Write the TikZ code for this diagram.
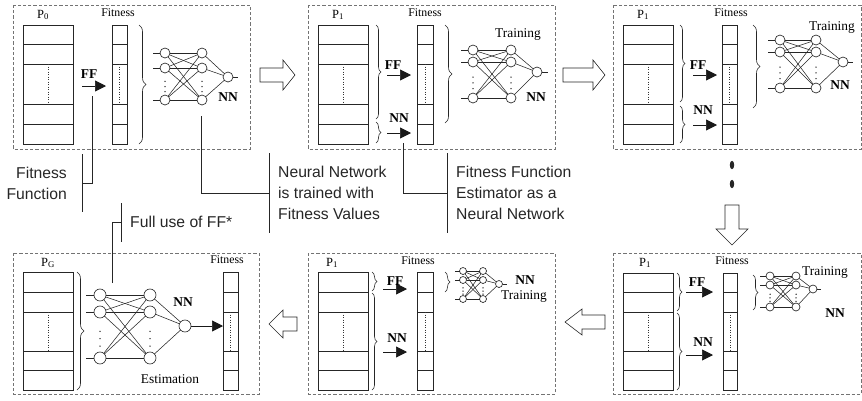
\documentclass[tikz,border=0pt]{standalone}
\usepackage{fontspec}
\setmainfont{Liberation Serif}
\setsansfont{Liberation Sans}
\usetikzlibrary{decorations.pathreplacing,arrows.meta}
\tikzset{
  panel/.style={draw=black!55, dash pattern=on 3.2pt off 2pt, line width=0.8pt},
  cell/.style={draw=black!85, line width=0.75pt},
  cellbox/.style={cell, rectangle, inner sep=0pt, outer sep=0pt},
  dotline/.style={draw=black!80, dotted, line width=0.5pt},
  neuron/.style={circle, draw=black!85, line width=0.65pt, inner sep=0pt, outer sep=0pt, fill=white},
  wire/.style={draw=black!85, line width=0.55pt},
  brc/.style={draw=black!85, line width=0.6pt, decorate, decoration={brace, amplitude=#1}},
  brc/.default=6pt,
  ffarrow/.style={draw=black!90, line width=0.7pt, -{Triangle[length=11pt,width=11pt]}},
  hollow/.style={draw=black!85, line width=0.6pt, fill=white, line join=miter},
  conn/.style={draw=black!85, line width=0.7pt},
  lbl/.style={font=\fontsize{11.8}{12}\selectfont, inner sep=0pt},
  plbl/.style={font=\fontsize{12.5}{13}\selectfont, inner sep=0pt},
  big/.style={font=\fontsize{13.4}{14}\selectfont, inner sep=0pt},
  bld/.style={font=\fontsize{13.5}{14}\selectfont\bfseries, inner sep=0pt},
  note/.style={font=\sffamily\fontsize{15.7}{21}\selectfont, text=black!85, inner sep=0pt},
}
% population / fitness column: name, x1, x2, ytop, ybot, l1, l2, l3, l4
\newcommand\popcol[9]{%
  \node[cellbox, anchor=north west, minimum width={(#3-#2)*1pt}, minimum height={(#5-#4)*1pt}] (#1) at (#2,#4) {};
  \foreach \yy in {#6,#7,#8,#9} \draw[cell] (#2,\yy) -- (#3,\yy);
  \draw[dotline] ({(#2+#3)/2},#7) -- ({(#2+#3)/2},#8);
}
% neural net: prefix, xi, xh, xo, y1, y2, y3, yo, diameter
\newcommand\nnet[9]{%
  \foreach \k/\yy in {1/#5,2/#6,3/#7}{%
    \node[neuron, minimum size=#9pt] (#1i\k) at (#2,\yy) {};
    \node[neuron, minimum size=#9pt] (#1h\k) at (#3,\yy) {};
  }
  \node[neuron, minimum size=#9pt] (#1o) at (#4,#8) {};
  \foreach \a in {1,2,3}{%
    \draw[wire] (#1i\a.west) -- ++({-0.7*#9},0);
    \foreach \b in {1,2,3}{\draw[wire] (#1i\a) -- (#1h\b);}
    \draw[wire] (#1h\a) -- (#1o);
  }
  \foreach \f in {0.42,0.58,0.74}{%
    \fill[black!85] (#2,{#6+\f*(#7-#6)}) circle (0.75pt);
    \fill[black!85] (#3,{#6+\f*(#7-#6)}) circle (0.75pt);
  }
}
\begin{document}
\begin{tikzpicture}[x=1pt,y=-1pt]
\useasboundingbox (0,0) rectangle (862,400);

% ================= Panel 1 =================
\draw[panel] (13,5) rectangle (250,149);
\node[plbl] (p1name) at (43,15) {P\textsubscript{0}};
\node[lbl] (p1fit) at (118,13) {Fitness};
\popcol{p1pop}{23}{73}{25}{144}{44}{64}{104}{124}
\popcol{p1col}{112}{127}{25}{144}{44}{64}{104}{124}
\draw[brc=7pt] (139,25) -- (139,144);
\coordinate (p1a) at (82,86); \coordinate (p1b) at (106,86);
\draw[ffarrow] (p1a) -- (p1b);
\node[bld] (p1ff) at (89,74) {FF};
\nnet{pa}{165}{202}{228}{53}{68}{100}{77}{10}
\draw[wire] (pao.east) -- ++(5,0);
\node[bld] (p1nn) at (228,97) {NN};

% ================= Panel 2 =================
\draw[panel] (308,5) rectangle (555,149);
\node[plbl] (p2name) at (338,15) {P\textsubscript{1}};
\node[lbl] (p2fit) at (425,13) {Fitness};
\popcol{p2pop}{318}{368}{25}{144}{44}{64}{104}{124}
\popcol{p2col}{417}{433}{25}{144}{44}{64}{104}{124}
\draw[brc=5pt] (376,25) -- (376,119);
\draw[brc=5pt] (376,122) -- (376,143);
\draw[ffarrow] (387,75) -- (411,75);
\node[bld] (p2ff) at (393,65) {FF};
\draw[ffarrow] (387,133) -- (411,133);
\node[bld] (p2nn1) at (399,118) {NN};
\draw[brc=7pt] (445,25) -- (445,123);
\nnet{pb}{473}{511}{537}{50}{62}{98}{72}{10}
\draw[wire] (pbo.east) -- ++(6,0);
\node[big] (p2tr) at (518,35) {Training};
\node[bld] (p2nn2) at (536,97) {NN};

% ================= Panel 3 =================
\draw[panel] (613,5) rectangle (861,149);
\node[plbl] (p3name) at (643,15) {P\textsubscript{1}};
\node[lbl] (p3fit) at (731,13) {Fitness};
\popcol{p3pop}{623}{673}{25}{144}{44}{64}{104}{124}
\popcol{p3col}{722}{737}{25}{144}{44}{64}{104}{124}
\draw[brc=5pt] (680,25) -- (680,102);
\draw[brc=5pt] (680,106) -- (680,143);
\draw[ffarrow] (693,75) -- (717,75);
\node[bld] (p3ff) at (698,65) {FF};
\draw[ffarrow] (693,125) -- (717,125);
\node[bld] (p3nn1) at (703,110) {NN};
\draw[brc=7pt] (753,25) -- (753,108);
\nnet{pc}{780}{816}{843}{40}{52}{88}{62}{10}
\draw[wire] (pco.east) -- ++(5,0);
\node[big] (p3tr) at (832,28) {Training};
\node[bld] (p3nn2) at (840,85) {NN};

% ================= Panel 4 (bottom left) =================
\draw[panel] (13,253) rectangle (259,394);
\node[plbl] (p4name) at (48,263) {P\textsubscript{G}};
\node[lbl] (p4fit) at (227,260) {Fitness};
\popcol{p4pop}{23}{73}{272}{390}{292}{312}{351}{370}
\popcol{p4col}{223}{238}{272}{390}{292}{312}{351}{370}
\draw[brc=7pt] (77,272) -- (77,390);
\nnet{pd}{100}{150}{185}{295}{312}{358}{326}{12}
\coordinate (p4t) at (223,326);
\draw[ffarrow] (pdo.east) -- (p4t);
\node[bld] (p4nn) at (183,302) {NN};
\node[big] (p4est) at (170,379) {Estimation};

% ================= Panel 5 (bottom middle) =================
\draw[panel] (308,253) rectangle (555,394);
\node[plbl] (p5name) at (332,263) {P\textsubscript{1}};
\node[lbl] (p5fit) at (418,261) {Fitness};
\popcol{p5pop}{318}{368}{272}{390}{292}{312}{351}{370}
\popcol{p5col}{417}{433}{272}{390}{292}{312}{351}{370}
\draw[brc=5pt] (372,272) -- (372,291);
\draw[brc=5pt] (372,293) -- (372,390);
\draw[ffarrow] (383,289) -- (407,289);
\node[bld] (p5ff) at (395,281) {FF};
\draw[ffarrow] (383,352) -- (407,352);
\node[bld] (p5nn1) at (397,338) {NN};
\draw[brc=5pt] (445,272) -- (445,292);
\nnet{pe}{463}{483}{499}{271}{280}{299}{284}{7}
\draw[wire] (peo.east) -- ++(4,0);
\node[bld] (p5nn2) at (525,280) {NN};
\node[big] (p5tr) at (524,297) {Training};

% ================= Panel 6 (bottom right) =================
\draw[panel] (613,253) rectangle (861,394);
\node[plbl] (p6name) at (645,263) {P\textsubscript{1}};
\node[lbl] (p6fit) at (732,261) {Fitness};
\popcol{p6pop}{623}{673}{273}{390}{292}{312}{351}{370}
\popcol{p6col}{723}{737}{273}{390}{292}{312}{351}{370}
\draw[brc=5pt] (677,273) -- (677,311);
\draw[brc=5pt] (677,313) -- (677,390);
\draw[ffarrow] (686,292) -- (713,292);
\node[bld] (p6ff) at (697,282) {FF};
\draw[ffarrow] (686,355) -- (713,355);
\node[bld] (p6nn1) at (703,342) {NN};
\draw[brc=5pt] (753,275) -- (753,310);
\nnet{pf}{770}{796}{813}{276}{285}{307}{289}{8}
\draw[wire] (pfo.east) -- ++(4,0);
\node[big] (p6tr) at (825,273) {Training};
\node[bld] (p6nn2) at (835,313) {NN};

% ================= Flow arrows =================
\draw[hollow] (260,68) -- (283,68) -- (283,60) -- (295,75) -- (283,90) -- (283,82) -- (260,82) -- cycle;
\draw[hollow] (563,68) -- (593,68) -- (593,60) -- (605,75) -- (593,90) -- (593,82) -- (563,82) -- cycle;
\fill[black!85] (732,165) ellipse (2.2pt and 4.2pt);
\fill[black!85] (732,184) ellipse (2.2pt and 4.2pt);
\draw[hollow] (725,205) -- (739,205) -- (739,229) -- (748,229) -- (732,245) -- (716,229) -- (725,229) -- cycle;
\draw[hollow] (605,315) -- (582,315) -- (582,309) -- (565,322) -- (582,335) -- (582,329) -- (605,329) -- cycle;
\draw[hollow] (297,317) -- (283,317) -- (283,310) -- (269,324) -- (283,338) -- (283,331) -- (297,331) -- cycle;

% ================= Annotations =================
\coordinate (n1a) at (92,96); \coordinate (n1b) at (92,183); \coordinate (n1c) at (82,183);
\coordinate (n1t) at (82,154); \coordinate (n1u) at (82,212);
\draw[conn] (n1a) -- (n1b) -- (n1c);
\draw[conn] (n1t) -- (n1u);
\node[note, anchor=east, align=right] (txt1) at (67,183) {Fitness\\Function};

\coordinate (n2a) at (201,116); \coordinate (n2b) at (201,193); \coordinate (n2c) at (269,193);
\coordinate (n2t) at (269,153); \coordinate (n2u) at (269,233);
\draw[conn] (n2a) -- (n2b) -- (n2c);
\draw[conn] (n2t) -- (n2u);
\node[note, anchor=west, align=left] (txt2) at (278,193) {Neural Network\\is trained with\\Fitness Values};

\coordinate (n3a) at (403,143); \coordinate (n3b) at (403,193); \coordinate (n3c) at (447,193);
\coordinate (n3t) at (447,153); \coordinate (n3u) at (447,233);
\draw[conn] (n3a) -- (n3b) -- (n3c);
\draw[conn] (n3t) -- (n3u);
\node[note, anchor=west, align=left] (txt3) at (456,193) {Fitness Function\\Estimator as a\\Neural Network};

\coordinate (n4a) at (112,283); \coordinate (n4b) at (112,222); \coordinate (n4c) at (121,222);
\coordinate (n4t) at (121,203); \coordinate (n4u) at (121,242);
\draw[conn] (n4a) -- (n4b) -- (n4c);
\draw[conn] (n4t) -- (n4u);
\node[note, anchor=west] (txt4) at (130,222) {Full use of FF*};
\end{tikzpicture}
\end{document}
